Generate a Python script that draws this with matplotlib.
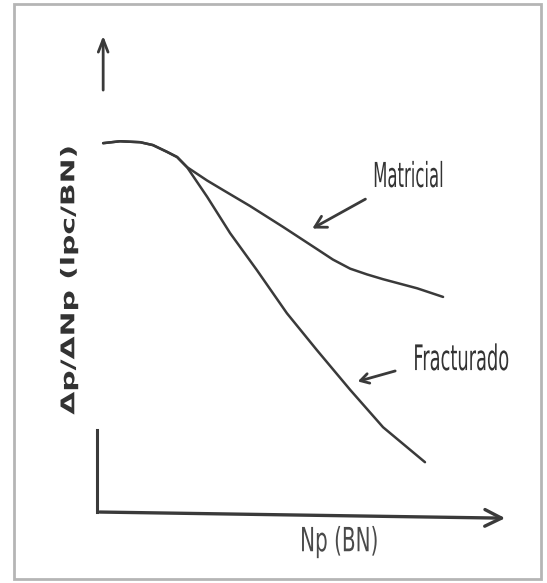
import matplotlib
matplotlib.use("Agg")
import matplotlib.pyplot as plt
from matplotlib import patheffects
from matplotlib.patches import Rectangle
from matplotlib.transforms import Affine2D

# DATA (arbitrary units)

np_matricial = [0.15, 0.56, 1.05, 1.36, 1.70, 1.95, 2.19, 2.68, 3.07, 3.72, 4.53, 5.35,
                5.74, 6.16, 6.57, 6.96, 7.79, 8.42]
dp_matricial = [7.70, 7.74, 7.72, 7.66, 7.52, 7.41, 7.20, 6.92, 6.72, 6.39, 5.95, 5.49,
                5.27, 5.08, 4.96, 4.86, 4.67, 4.49]

np_fracturado = [0.15, 0.56, 1.05, 1.36, 1.70, 1.95, 2.19, 2.68, 3.24, 3.89, 4.62, 5.35,
                 6.16, 6.96, 7.98]
dp_fracturado = [7.70, 7.74, 7.72, 7.66, 7.52, 7.41, 7.20, 6.58, 5.82, 5.05, 4.15, 3.38,
                 2.55, 1.77, 1.04]

labels = ["Matricial", "Fracturado"]
x_label = "Np (BN)"
y_label = "Δp/ΔNp (lpc/BN)"

INK = "#3a3a3a"


# the scan is stretched vertically, so the lettering is too
class Stretch(patheffects.AbstractPathEffect):
    def __init__(self, sx=1.0, sy=1.5):
        super().__init__()
        self.sx = sx
        self.sy = sy

    def draw_path(self, renderer, gc, tpath, affine, rgbFace=None):
        ext = tpath.get_extents(affine)
        cx = (ext.x0 + ext.x1) / 2
        cy = (ext.y0 + ext.y1) / 2
        new_affine = affine + Affine2D().translate(-cx, -cy).scale(self.sx, self.sy).translate(cx, cy)
        renderer.draw_path(gc, tpath, new_affine, rgbFace)


fig = plt.figure(figsize=(5.47, 5.83), dpi=100)

# scanned page border
fig.patches.append(Rectangle((14 / 547, 4 / 583), 527 / 547, 575 / 583,
                             transform=fig.transFigure, fill=False,
                             edgecolor="#b5b5b5", lw=2))

ax = fig.add_axes([97 / 547, 71 / 583, 411 / 547, 479 / 583])
ax.set_xlim(0, 10)
ax.set_ylim(0, 10)
ax.axis("off")

# curves
ax.plot(np_matricial, dp_matricial, color=INK, lw=1.8, solid_capstyle="round", solid_joinstyle="round")
ax.plot(np_fracturado, dp_fracturado, color=INK, lw=1.8, solid_capstyle="round", solid_joinstyle="round")

# hand drawn axes
ax.plot([0, 0], [0, 1.71], color=INK, lw=2.2, clip_on=False)
ax.annotate("", xy=(10, -0.13), xytext=(0, 0), annotation_clip=False,
            arrowprops=dict(arrowstyle="->,head_length=1.2,head_width=0.6", color=INK, lw=2.4))
ax.annotate("", xy=(0.15, 10.0), xytext=(0.15, 8.75), annotation_clip=False,
            arrowprops=dict(arrowstyle="->,head_length=0.9,head_width=0.35", color=INK, lw=2.0))

# labels with pointer arrows
ax.annotate("", xy=(5.18, 5.89), xytext=(6.59, 6.56),
            arrowprops=dict(arrowstyle="->,head_length=0.8,head_width=0.45", color=INK, lw=2.0))
ax.annotate("", xy=(6.28, 2.71), xytext=(7.32, 2.96),
            arrowprops=dict(arrowstyle="->,head_length=0.6,head_width=0.35", color=INK, lw=2.0))

ax.text(7.57, 7.01, labels[0], ha="center", va="center", fontsize=16.5,
        color="#333333", path_effects=[Stretch(0.72, 1.5)])
ax.text(8.86, 3.19, labels[1], ha="center", va="center", fontsize=16.9,
        color="#333333", path_effects=[Stretch(0.76, 1.5)])

ax.text(5.89, -0.63, x_label, ha="center", va="center", fontsize=16,
        color="#4a4a4a", path_effects=[Stretch(0.9, 1.5)], clip_on=False)
ax.text(-0.68, 4.84, y_label, ha="center", va="center", fontsize=14.3, rotation=90,
        weight="bold", color="#333333", path_effects=[Stretch(0.95, 1.5)], clip_on=False)

fig.savefig("out.png", dpi=100)
